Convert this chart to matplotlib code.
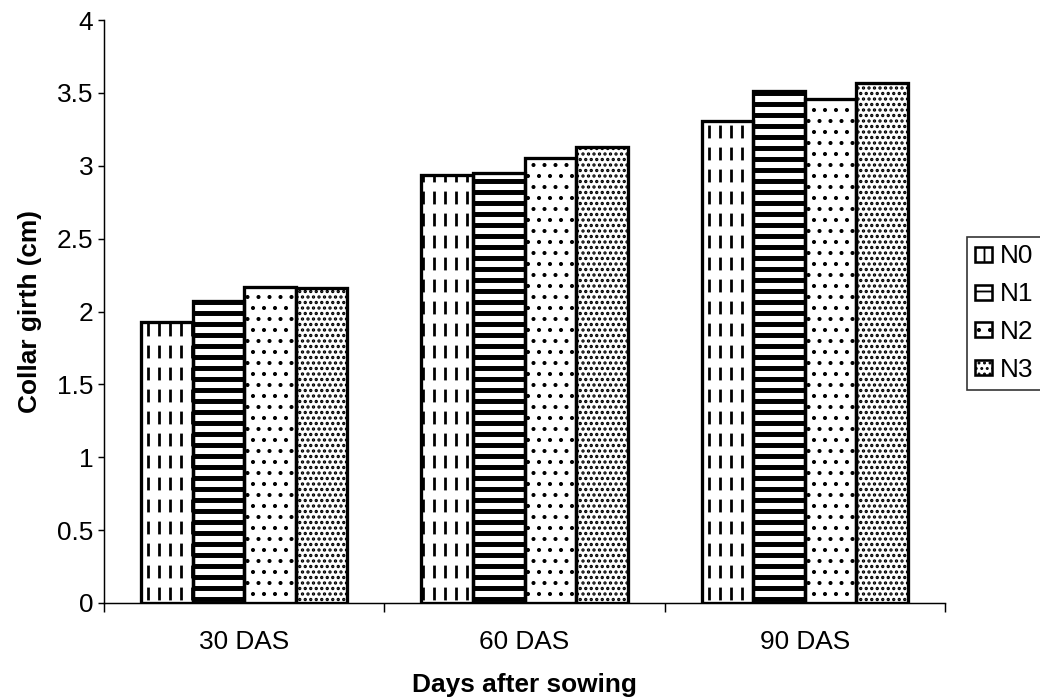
import numpy as np
import matplotlib
matplotlib.use("Agg")
import matplotlib.pyplot as plt
from matplotlib.patches import Patch
from matplotlib.ticker import FuncFormatter, FixedLocator

plt.rcParams["font.family"] = ["Liberation Sans", "DejaVu Sans"]

stages = ["30 DAS", "60 DAS", "90 DAS"]
levels = ["N0", "N1", "N2", "N3"]
n0 = [1.93, 2.94, 3.31]
n1 = [2.07, 2.95, 3.51]
n2 = [2.17, 3.05, 3.46]
n3 = [2.16, 3.13, 3.57]

DPI = 132
FS = 14.3


def set_hatch_lw(bars, lw):
    for p in bars:
        p.set_hatch_linewidth(lw)


fig = plt.figure(figsize=(1040 / DPI, 700 / DPI), dpi=DPI)
ax = fig.add_axes([0.1, 0.1386, 0.8087, 0.8328])

x = np.arange(len(stages))
w = 0.184
offs = (np.arange(4) - 1.5) * w

# N0: vertical lines cut by a white stripe overlay -> dashed look
b0 = ax.bar(x + offs[0], n0, w, color="white", edgecolor="black",
            linewidth=0, hatch="||", zorder=2)
set_hatch_lw(b0, 1.5)
gap = ax.bar(x + offs[0], n0, w, color="none", edgecolor="white",
             linewidth=0, hatch="-", zorder=3)
set_hatch_lw(gap, 5.0)

b1 = ax.bar(x + offs[1], n1, w, color="white", edgecolor="black",
            linewidth=0, hatch="--", zorder=2)
set_hatch_lw(b1, 2.7)
b2 = ax.bar(x + offs[2], n2, w, color="white", edgecolor="black",
            linewidth=0, hatch="..", zorder=2)
set_hatch_lw(b2, 1.0)
b3 = ax.bar(x + offs[3], n3, w, color="white", edgecolor="black",
            linewidth=0, hatch="....", zorder=2)
set_hatch_lw(b3, 1.2)

# outlines on top
for i, vals in enumerate([n0, n1, n2, n3]):
    ax.bar(x + offs[i], vals, w, color="none", edgecolor="black",
           linewidth=1.8, zorder=4)

ax.set_xlim(-0.5, 2.5)
ax.set_ylim(0, 4)
ax.set_yticks(np.arange(0, 4.01, 0.5))
ax.yaxis.set_major_formatter(FuncFormatter(lambda v, p: "%g" % v))
ax.set_xticks(x)
ax.set_xticklabels(stages)
ax.xaxis.set_minor_locator(FixedLocator([-0.5, 0.5, 1.5, 2.5]))
ax.tick_params(axis="x", which="major", length=0, pad=14.5, labelsize=FS)
ax.tick_params(axis="x", which="minor", length=5, width=0.8, direction="out")
ax.tick_params(axis="y", length=3.3, width=0.8, direction="out", pad=2.5, labelsize=FS)

for s in ["top", "right"]:
    ax.spines[s].set_visible(False)
for s in ["left", "bottom"]:
    ax.spines[s].set_linewidth(0.8)

ax.set_xlabel("Days after sowing", fontsize=FS, fontweight="bold", labelpad=10.5)
ax.set_ylabel("Collar girth (cm)", fontsize=FS, fontweight="bold", labelpad=8)

handles = []
for h in ["||", "--", "..", "...."]:
    handles.append(Patch(facecolor="white", edgecolor="black", hatch=h, linewidth=1.4))
leg = fig.legend(handles, levels, loc="upper left", bbox_to_anchor=(0.93, 0.662),
                 fontsize=FS, frameon=True, fancybox=False, borderaxespad=0,
                 handlelength=0.65, handleheight=0.5, handletextpad=0.3,
                 labelspacing=0.53, borderpad=0.3)
leg.get_frame().set_edgecolor("black")
leg.get_frame().set_linewidth(0.9)

fig.savefig("out.png", dpi=DPI)
